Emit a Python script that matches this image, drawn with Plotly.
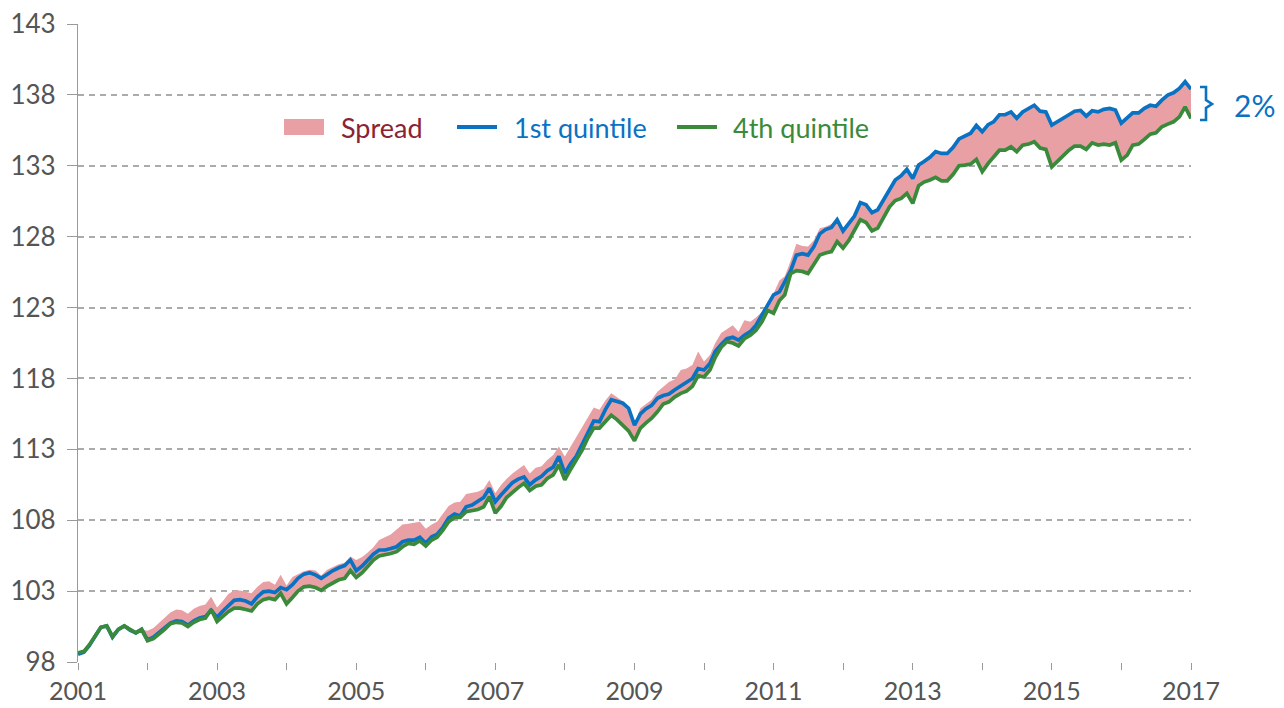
import pandas as pd
import plotly.graph_objects as go

# ---------------- data (monthly, Jan 2001 - Jan 2017) ----------------
first_quintile = [
    98.55, 98.7, 99.15, 99.8, 100.45, 100.55, 99.75, 100.3, 100.55, 100.25, 100.05, 100.3,      # 2001
    99.55, 99.75, 100.05, 100.4, 100.75, 100.9, 100.85, 100.6, 100.9, 101.1, 101.2, 101.65,    # 2002
    101.15, 101.6, 102.0, 102.35, 102.4, 102.3, 102.1, 102.6, 102.95, 103.0, 102.9, 103.25,   # 2003
    103.1, 103.45, 103.9, 104.2, 104.3, 104.15, 103.9, 104.2, 104.45, 104.65, 104.8, 105.2,   # 2004
    104.44, 104.77, 105.2, 105.6, 105.9, 105.9, 106.0, 106.13, 106.48, 106.6, 106.6, 106.8,   # 2005
    106.37, 106.84, 107.0, 107.5, 108.15, 108.44, 108.3, 108.95, 109.07, 109.3, 109.6, 110.25,  # 2006
    109.3, 109.8, 110.2, 110.65, 110.9, 111.05, 110.5, 110.85, 111.1, 111.5, 111.75, 112.5,   # 2007
    111.3, 112.0, 112.5, 113.3, 114.1, 115.0, 114.95, 115.8, 116.5, 116.4, 116.25, 115.9,     # 2008
    114.7, 115.5, 115.85, 116.1, 116.6, 116.8, 116.9, 117.2, 117.45, 117.75, 118.0, 118.7,    # 2009
    118.6, 119.05, 119.9, 120.4, 120.8, 120.9, 120.7, 121.05, 121.3, 121.75, 122.5, 123.2,    # 2010
    123.9, 124.1, 124.8, 125.6, 126.7, 126.8, 126.7, 127.3, 128.2, 128.5, 128.65, 129.2,      # 2011
    128.4, 128.95, 129.45, 130.4, 130.25, 129.7, 129.9, 130.6, 131.3, 132.0, 132.3, 132.75,   # 2012
    132.1, 133.05, 133.3, 133.6, 134.0, 133.87, 133.87, 134.3, 134.9, 135.1, 135.3, 135.85,   # 2013
    135.4, 135.9, 136.1, 136.6, 136.6, 136.8, 136.35, 136.8, 137.05, 137.27, 136.85, 136.8,   # 2014
    135.87, 136.1, 136.35, 136.6, 136.85, 136.9, 136.5, 136.88, 136.8, 136.98, 137.05, 136.93,  # 2015
    136.0, 136.4, 136.73, 136.73, 137.05, 137.27, 137.2, 137.63, 137.99, 138.15, 138.46, 138.93,  # 2016
    138.4,                                                                                      # 2017
]

fourth_quintile = [
    98.65, 98.75, 99.2, 99.8, 100.45, 100.55, 99.8, 100.3, 100.55, 100.3, 100.05, 100.3,      # 2001
    99.5, 99.65, 99.95, 100.3, 100.7, 100.8, 100.75, 100.5, 100.8, 101.0, 101.1, 101.7,        # 2002
    100.85, 101.2, 101.55, 101.8, 101.8, 101.7, 101.6, 102.1, 102.4, 102.5, 102.4, 102.85,    # 2003
    102.1, 102.55, 103.0, 103.3, 103.35, 103.25, 103.05, 103.35, 103.55, 103.8, 103.9, 104.45,  # 2004
    103.97, 104.3, 104.72, 105.2, 105.48, 105.55, 105.65, 105.78, 106.13, 106.37, 106.3, 106.55,  # 2005
    106.18, 106.6, 106.8, 107.3, 107.9, 108.2, 108.2, 108.6, 108.7, 108.75, 108.95, 109.66,   # 2006
    108.5, 109.0, 109.6, 110.0, 110.3, 110.6, 110.1, 110.4, 110.5, 110.95, 111.2, 111.9,      # 2007
    110.85, 111.6, 112.2, 112.95, 113.8, 114.5, 114.5, 115.0, 115.4, 115.1, 114.7, 114.3,     # 2008
    113.6, 114.5, 114.85, 115.2, 115.65, 116.2, 116.35, 116.7, 116.95, 117.1, 117.45, 118.2,  # 2009
    118.1, 118.6, 119.5, 120.2, 120.6, 120.5, 120.3, 120.8, 121.05, 121.4, 122.0, 122.8,      # 2010
    122.6, 123.5, 123.9, 125.4, 125.6, 125.55, 125.4, 126.0, 126.7, 126.85, 126.95, 127.65,   # 2011
    127.2, 127.75, 128.45, 129.2, 129.0, 128.4, 128.6, 129.4, 130.1, 130.55, 130.7, 131.05,   # 2012
    130.35, 131.6, 131.85, 132.0, 132.18, 131.94, 131.94, 132.4, 133.0, 133.05, 133.12, 133.45,  # 2013
    132.58, 133.17, 133.6, 134.1, 134.1, 134.34, 133.99, 134.45, 134.53, 134.7, 134.25, 134.16,  # 2014
    132.93, 133.35, 133.75, 134.1, 134.39, 134.39, 134.16, 134.62, 134.46, 134.53, 134.46, 134.62,  # 2015
    133.4, 133.75, 134.46, 134.53, 134.86, 135.23, 135.33, 135.75, 135.94, 136.1, 136.45, 137.15,  # 2016
    136.34,                                                                                     # 2017
]

spread_top = [
    98.65, 98.75, 99.2, 99.8, 100.45, 100.55, 99.8, 100.3, 100.55, 100.3, 100.05, 100.3,      # 2001
    100.2, 100.4, 100.75, 101.15, 101.5, 101.7, 101.65, 101.4, 101.75, 101.95, 102.05, 102.6,  # 2002
    101.85, 102.3, 102.8, 103.05, 103.05, 102.95, 102.85, 103.3, 103.65, 103.7, 103.45, 104.15,  # 2003
    103.4, 104.0, 104.2, 104.4, 104.5, 104.45, 104.1, 104.5, 104.7, 104.9, 105.0, 105.45,     # 2004
    105.2, 105.4, 105.7, 106.1, 106.6, 106.8, 107.0, 107.35, 107.7, 107.75, 107.85, 107.9,    # 2005
    107.4, 107.7, 107.9, 108.5, 109.0, 109.25, 109.3, 109.85, 109.9, 110.0, 110.2, 110.84,    # 2006
    109.9, 110.5, 110.9, 111.3, 111.6, 111.9, 111.3, 111.7, 111.8, 112.25, 112.6, 113.2,      # 2007
    112.5, 113.2, 113.8, 114.5, 115.2, 115.95, 115.8, 116.45, 116.95, 116.7, 116.4, 116.0,    # 2008
    114.8, 115.9, 116.2, 116.5, 117.06, 117.4, 117.75, 117.95, 118.6, 118.7, 118.95, 119.9,   # 2009
    119.2, 119.65, 120.5, 121.2, 121.5, 121.75, 121.3, 122.1, 122.0, 122.3, 122.7, 123.3,     # 2010
    124.0, 124.9, 125.2, 126.3, 127.5, 127.35, 127.3, 127.75, 128.6, 128.7, 128.9, 129.2,     # 2011
    128.4, 128.95, 129.45, 130.4, 130.25, 129.7, 129.9, 130.6, 131.3, 132.0, 132.3, 132.75,   # 2012
    132.1, 133.05, 133.3, 133.6, 134.0, 133.87, 133.87, 134.3, 134.9, 135.1, 135.3, 135.85,   # 2013
    135.4, 135.9, 136.1, 136.6, 136.6, 136.8, 136.35, 136.8, 137.05, 137.27, 136.85, 136.8,   # 2014
    135.87, 136.1, 136.35, 136.6, 136.85, 136.9, 136.5, 136.88, 136.8, 136.98, 137.05, 136.93,  # 2015
    136.0, 136.4, 136.73, 136.73, 137.05, 137.27, 137.2, 137.63, 137.99, 138.15, 138.46, 139.1,  # 2016
    138.4,                                                                                      # 2017
]

dates = pd.date_range("2001-01-01", "2017-01-01", freq="MS")
year_ticks = list(range(2001, 2018))
year_labels = [str(y) if (y - 2001) % 2 == 0 else "" for y in year_ticks]
y_ticks = [98, 103, 108, 113, 118, 123, 128, 133, 138, 143]

# ---------------- styles ----------------
BLUE = "#0a72c3"
GREEN = "#3a8a3c"
PINK = "#e8a0a5"
SPREAD_TXT = "#8c2232"
AXIS_GRAY = "#9a9a9a"
LABEL_GRAY = "#555555"
FONT = "Lato"
FS = 26

W, H = 1284, 708
ML, MR, MT, MB = 78, 93, 24, 46
PW, PH = W - ML - MR, H - MT - MB


def px(x):
    return (x - ML) / PW


def py(y):
    return (H - MB - y) / PH


fig = go.Figure()

fig.add_trace(go.Scatter(x=dates, y=fourth_quintile, mode="lines",
                         line=dict(width=0, color=GREEN), showlegend=False,
                         hoverinfo="skip"))
fig.add_trace(go.Scatter(x=dates, y=spread_top, mode="lines", fill="tonexty",
                         fillcolor=PINK, line=dict(width=0, color=PINK),
                         name="Spread", showlegend=False))
fig.add_trace(go.Scatter(x=dates, y=first_quintile, mode="lines",
                         line=dict(width=3.7, color=BLUE), name="1st quintile",
                         showlegend=False))
fig.add_trace(go.Scatter(x=dates, y=fourth_quintile, mode="lines",
                         line=dict(width=3.7, color=GREEN), name="4th quintile",
                         showlegend=False))

shapes = []
annotations = []

# manual legend
leg_y = 127
shapes.append(dict(type="rect", xref="paper", yref="paper",
                   x0=px(284), x1=px(324), y0=py(135), y1=py(119),
                   fillcolor=PINK, line=dict(width=0)))
annotations.append(dict(text="Spread", xref="paper", yref="paper", x=px(339), y=py(leg_y),
                        xanchor="left", yanchor="middle", showarrow=False,
                        font=dict(family=FONT, size=FS + 1, color=SPREAD_TXT)))
shapes.append(dict(type="line", xref="paper", yref="paper",
                   x0=px(457), x1=px(497), y0=py(leg_y), y1=py(leg_y),
                   line=dict(width=4, color=BLUE)))
annotations.append(dict(text="1st quintile", xref="paper", yref="paper", x=px(512), y=py(leg_y),
                        xanchor="left", yanchor="middle", showarrow=False,
                        font=dict(family=FONT, size=FS + 1, color=BLUE)))
shapes.append(dict(type="line", xref="paper", yref="paper",
                   x0=px(677), x1=px(717), y0=py(leg_y), y1=py(leg_y),
                   line=dict(width=4, color=GREEN)))
annotations.append(dict(text="4th quintile", xref="paper", yref="paper", x=px(731), y=py(leg_y),
                        xanchor="left", yanchor="middle", showarrow=False,
                        font=dict(family=FONT, size=FS + 1, color=GREEN)))

# bracket and 2% label
bx0, bx1, bxm = px(1200), px(1206), px(1212)
by_top, by_mid, by_bot = py(87), py(104), py(120)
path = (f"M {bx0} {by_top} L {bx1} {by_top} L {bx1} {py(100)} L {bxm} {by_mid} "
        f"L {bx1} {py(108)} L {bx1} {by_bot} L {bx0} {by_bot}")
shapes.append(dict(type="path", xref="paper", yref="paper", path=path,
                   line=dict(width=2.6, color=BLUE)))
annotations.append(dict(text="2%", xref="paper", yref="paper", x=px(1254), y=py(105),
                        xanchor="center", yanchor="middle", showarrow=False,
                        font=dict(family=FONT, size=30, color=BLUE)))

fig.update_layout(
    template="none",
    width=W, height=H,
    margin=dict(l=ML, r=MR, t=MT, b=MB, pad=0, autoexpand=False),
    paper_bgcolor="white", plot_bgcolor="white",
    font=dict(family=FONT, size=FS, color=LABEL_GRAY),
    shapes=shapes, annotations=annotations,
    showlegend=False,
    hovermode=False,
)

fig.update_xaxes(
    type="date",
    range=[dates[0], dates[-1]],
    tickvals=[pd.Timestamp(f"{y}-01-01") for y in year_ticks],
    ticktext=year_labels,
    ticks="outside", ticklen=7, tickwidth=1.2, tickcolor=AXIS_GRAY,
    showgrid=False, showline=False, zeroline=False, automargin=False,
    ticklabelstandoff=0,
    tickfont=dict(family=FONT, size=25, color=LABEL_GRAY),
)

fig.update_yaxes(
    range=[98, 143],
    tickvals=y_ticks,
    ticks="outside", ticklen=10, tickwidth=1.2, tickcolor=AXIS_GRAY,
    showgrid=True, gridcolor="#ababab", gridwidth=1.6, griddash="6px,5px",
    showline=True, linecolor=AXIS_GRAY, linewidth=1.2,
    zeroline=False, automargin=False,
    ticklabelstandoff=6,
    tickfont=dict(family=FONT, size=FS, color=LABEL_GRAY),
)

fig.write_html(
    "out.html",
    config={"displayModeBar": False},
    post_script="document.body.style.margin='0';document.body.style.padding='0';",
)
